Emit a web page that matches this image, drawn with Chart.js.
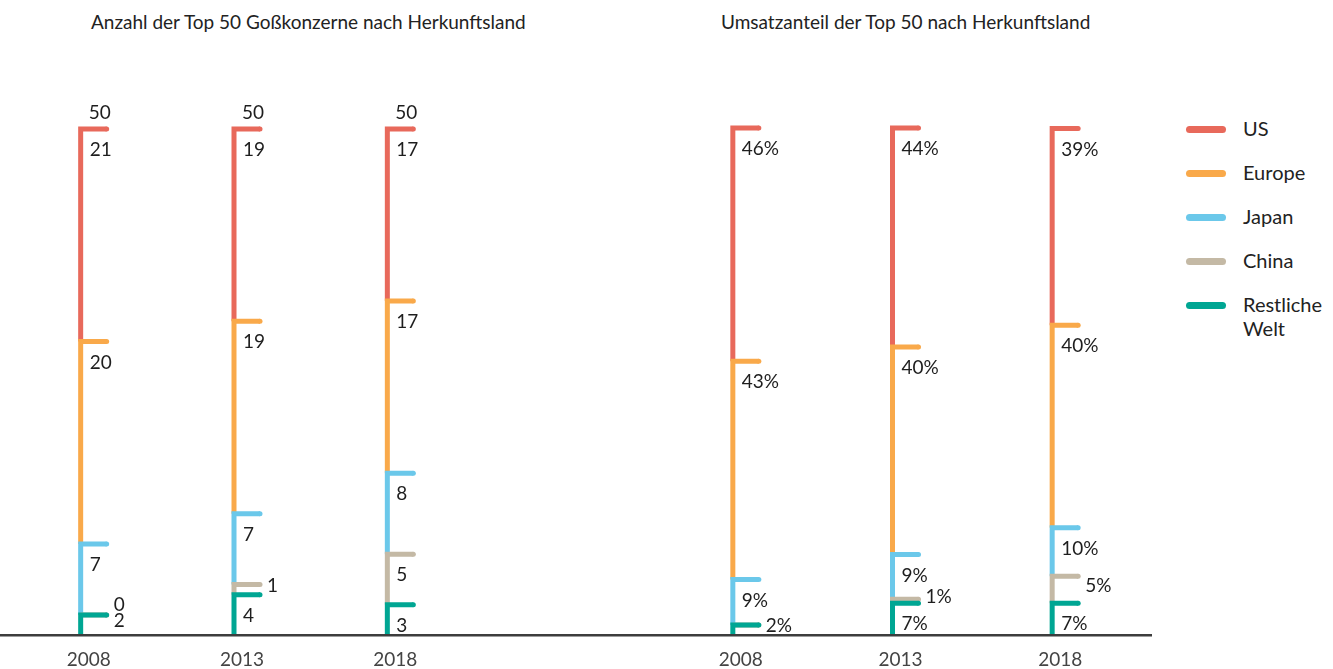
<!DOCTYPE html>
<html>
<head>
<meta charset="utf-8">
<script src="https://cdn.jsdelivr.net/npm/chart.js@4/dist/chart.umd.min.js"></script>
<style>
  body { margin: 0; background: #fff; font-family: Lato, sans-serif; color: #222; }
  #page { position: relative; width: 1333px; height: 669px; overflow: hidden; }
  .title { position: absolute; top: 10px; font-size: 19px; white-space: nowrap; }
  .box { position: absolute; top: 0; height: 684px; }
  .legend { position: absolute; left: 1186px; top: 116px; font-size: 20px; }
  .item { position: relative; height: 44px; padding-left: 57px; line-height: 24px; }
  .item span { position: absolute; left: 0; top: 10px; width: 40px; height: 7px; border-radius: 4px; }
</style>
</head>
<body>
<div id="page">
  <div class="title" style="left:91px">Anzahl der Top 50 Goßkonzerne nach Herkunftsland</div>
  <div class="title" style="left:721px">Umsatzanteil der Top 50 nach Herkunftsland</div>
  <div class="box" style="left:0;width:570px"><canvas id="left"></canvas></div>
  <div class="box" style="left:570px;width:582px"><canvas id="right"></canvas></div>
  <div class="legend" id="legend"></div>
</div>
<script>
// Daten
const years = ['2008', '2013', '2018'];
const regions = ['Restliche Welt', 'China', 'Japan', 'Europe', 'US'];   // von unten nach oben

// Anzahl der Konzerne
const countRest = [2, 4, 3];
const countChina = [0, 1, 5];
const countJapan = [7, 7, 8];
const countEurope = [20, 19, 17];
const countUS = [21, 19, 17];
const countTotals = ['50', '50', '50'];

// Umsatzanteil in %
const shareRest = [2, 6.3, 6.3];
const shareChina = [0, 0.8, 5.3];
const shareJapan = [9, 8.8, 9.6];
const shareEurope = [43, 40.9, 39.9];
const shareUS = [46, 43.2, 38.8];

// Beschriftungen Umsatzanteil
const shareLabelRest = ['2%', '7%', '7%'];
const shareLabelChina = [null, '1%', '5%'];
const shareLabelJapan = ['9%', '9%', '10%'];
const shareLabelEurope = ['43%', '40%', '40%'];
const shareLabelUS = ['46%', '44%', '39%'];

const colors = ['#00a693', '#c4b9a5', '#6bc8ea', '#f9a94a', '#e8695b'];
const legendOrder = [4, 3, 2, 1, 0];

// Legende
const legend = document.getElementById('legend');
legendOrder.forEach(function(i) {
    const div = document.createElement('div');
    div.className = 'item';
    div.innerHTML = '<span style="background:' + colors[i] + '"></span>' +
        (regions[i] === 'Restliche Welt' ? 'Restliche<br>Welt' : regions[i]);
    legend.appendChild(div);
});

// Klammern und Werte zeichnen
const bracketPlugin = {
    id: 'brackets',
    afterDraw: function(chart) {
        const ctx = chart.ctx;
        const yScale = chart.scales.y;
        const base = yScale.getPixelForValue(0);
        const labels = chart.options.plugins.brackets.labels;
        const totals = chart.options.plugins.brackets.totals;

        ctx.save();
        // oben nach unten zeichnen, damit untere Striche vorne liegen
        for (let d = chart.data.datasets.length - 1; d >= 0; d--) {
            const meta = chart.getDatasetMeta(d);
            meta.data.forEach(function(bar) {
                const left = bar.x - bar.width / 2;
                const right = bar.x + bar.width / 2;
                ctx.strokeStyle = colors[d];
                ctx.fillStyle = colors[d];
                ctx.lineWidth = 5;
                ctx.lineCap = 'butt';
                ctx.lineJoin = 'miter';
                ctx.beginPath();
                ctx.moveTo(left, bar.base);
                ctx.lineTo(left, bar.y);
                ctx.lineTo(right, bar.y);
                ctx.stroke();
                ctx.beginPath();
                ctx.arc(right, bar.y, 2.5, 0, Math.PI * 2);
                ctx.fill();
            });
        }

        // Grundlinie
        ctx.strokeStyle = '#3d3d3d';
        ctx.lineWidth = 2.5;
        ctx.beginPath();
        ctx.moveTo(0, base);
        ctx.lineTo(chart.width, base);
        ctx.stroke();

        // Werte
        ctx.fillStyle = '#1e1e1e';
        ctx.font = '19px Lato, sans-serif';
        ctx.textAlign = 'left';
        ctx.textBaseline = 'middle';
        chart.data.datasets.forEach(function(ds, d) {
            const meta = chart.getDatasetMeta(d);
            meta.data.forEach(function(bar, i) {
                const text = labels[d][i];
                if (text === null) return;
                const left = bar.x - bar.width / 2;
                const right = bar.x + bar.width / 2;
                const h = bar.base - bar.y;
                if (ds.data[i] === 0) {
                    ctx.fillText(text, right + 7, bar.y - 10);
                } else if (h < 29) {
                    ctx.fillText(text, right + 7, Math.min((bar.y + bar.base) / 2 - 4, base - 9));
                } else {
                    ctx.fillText(text, left + 9, bar.y + 21);
                }
            });
        });
        if (totals) {
            const top = chart.getDatasetMeta(chart.data.datasets.length - 1);
            top.data.forEach(function(bar, i) {
                ctx.fillText(totals[i], bar.x - bar.width / 2 + 8, bar.y - 16);
            });
        }
        ctx.restore();
    }
};

function makeChart(id, series, max, labels, totals, padLeft, padRight, padTop) {
    return new Chart(document.getElementById(id), {
        type: 'bar',
        data: {
            labels: years,
            datasets: series.map(function(s, d) {
                return {
                    label: regions[d],
                    data: s,
                    backgroundColor: 'rgba(0,0,0,0)',
                    borderWidth: 0,
                    barThickness: 26
                };
            })
        },
        options: {
            responsive: true,
            maintainAspectRatio: false,
            animation: false,
            layout: { padding: { left: padLeft, right: padRight, top: padTop, bottom: 0 } },
            scales: {
                x: {
                    stacked: true,
                    grid: { display: false, drawTicks: false },
                    border: { display: false },
                    ticks: {
                        color: '#444',
                        padding: 13,
                        labelOffset: -5,
                        font: { family: 'Lato', size: 19 }
                    }
                },
                y: {
                    stacked: true,
                    display: false,
                    min: 0,
                    max: max
                }
            },
            plugins: {
                legend: { display: false },
                tooltip: { enabled: false },
                brackets: { labels: labels, totals: totals }
            }
        },
        plugins: [bracketPlugin]
    });
}

makeChart('left',
    [countRest, countChina, countJapan, countEurope, countUS], 50,
    [countRest, countChina, countJapan, countEurope, countUS].map(function(a) {
        return a.map(String);
    }),
    countTotals, 17, 93, 129);

makeChart('right',
    [shareRest, shareChina, shareJapan, shareEurope, shareUS], 100,
    [shareLabelRest, shareLabelChina, shareLabelJapan, shareLabelEurope, shareLabelUS],
    null, 96, 7, 128);
</script>
</body>
</html>
